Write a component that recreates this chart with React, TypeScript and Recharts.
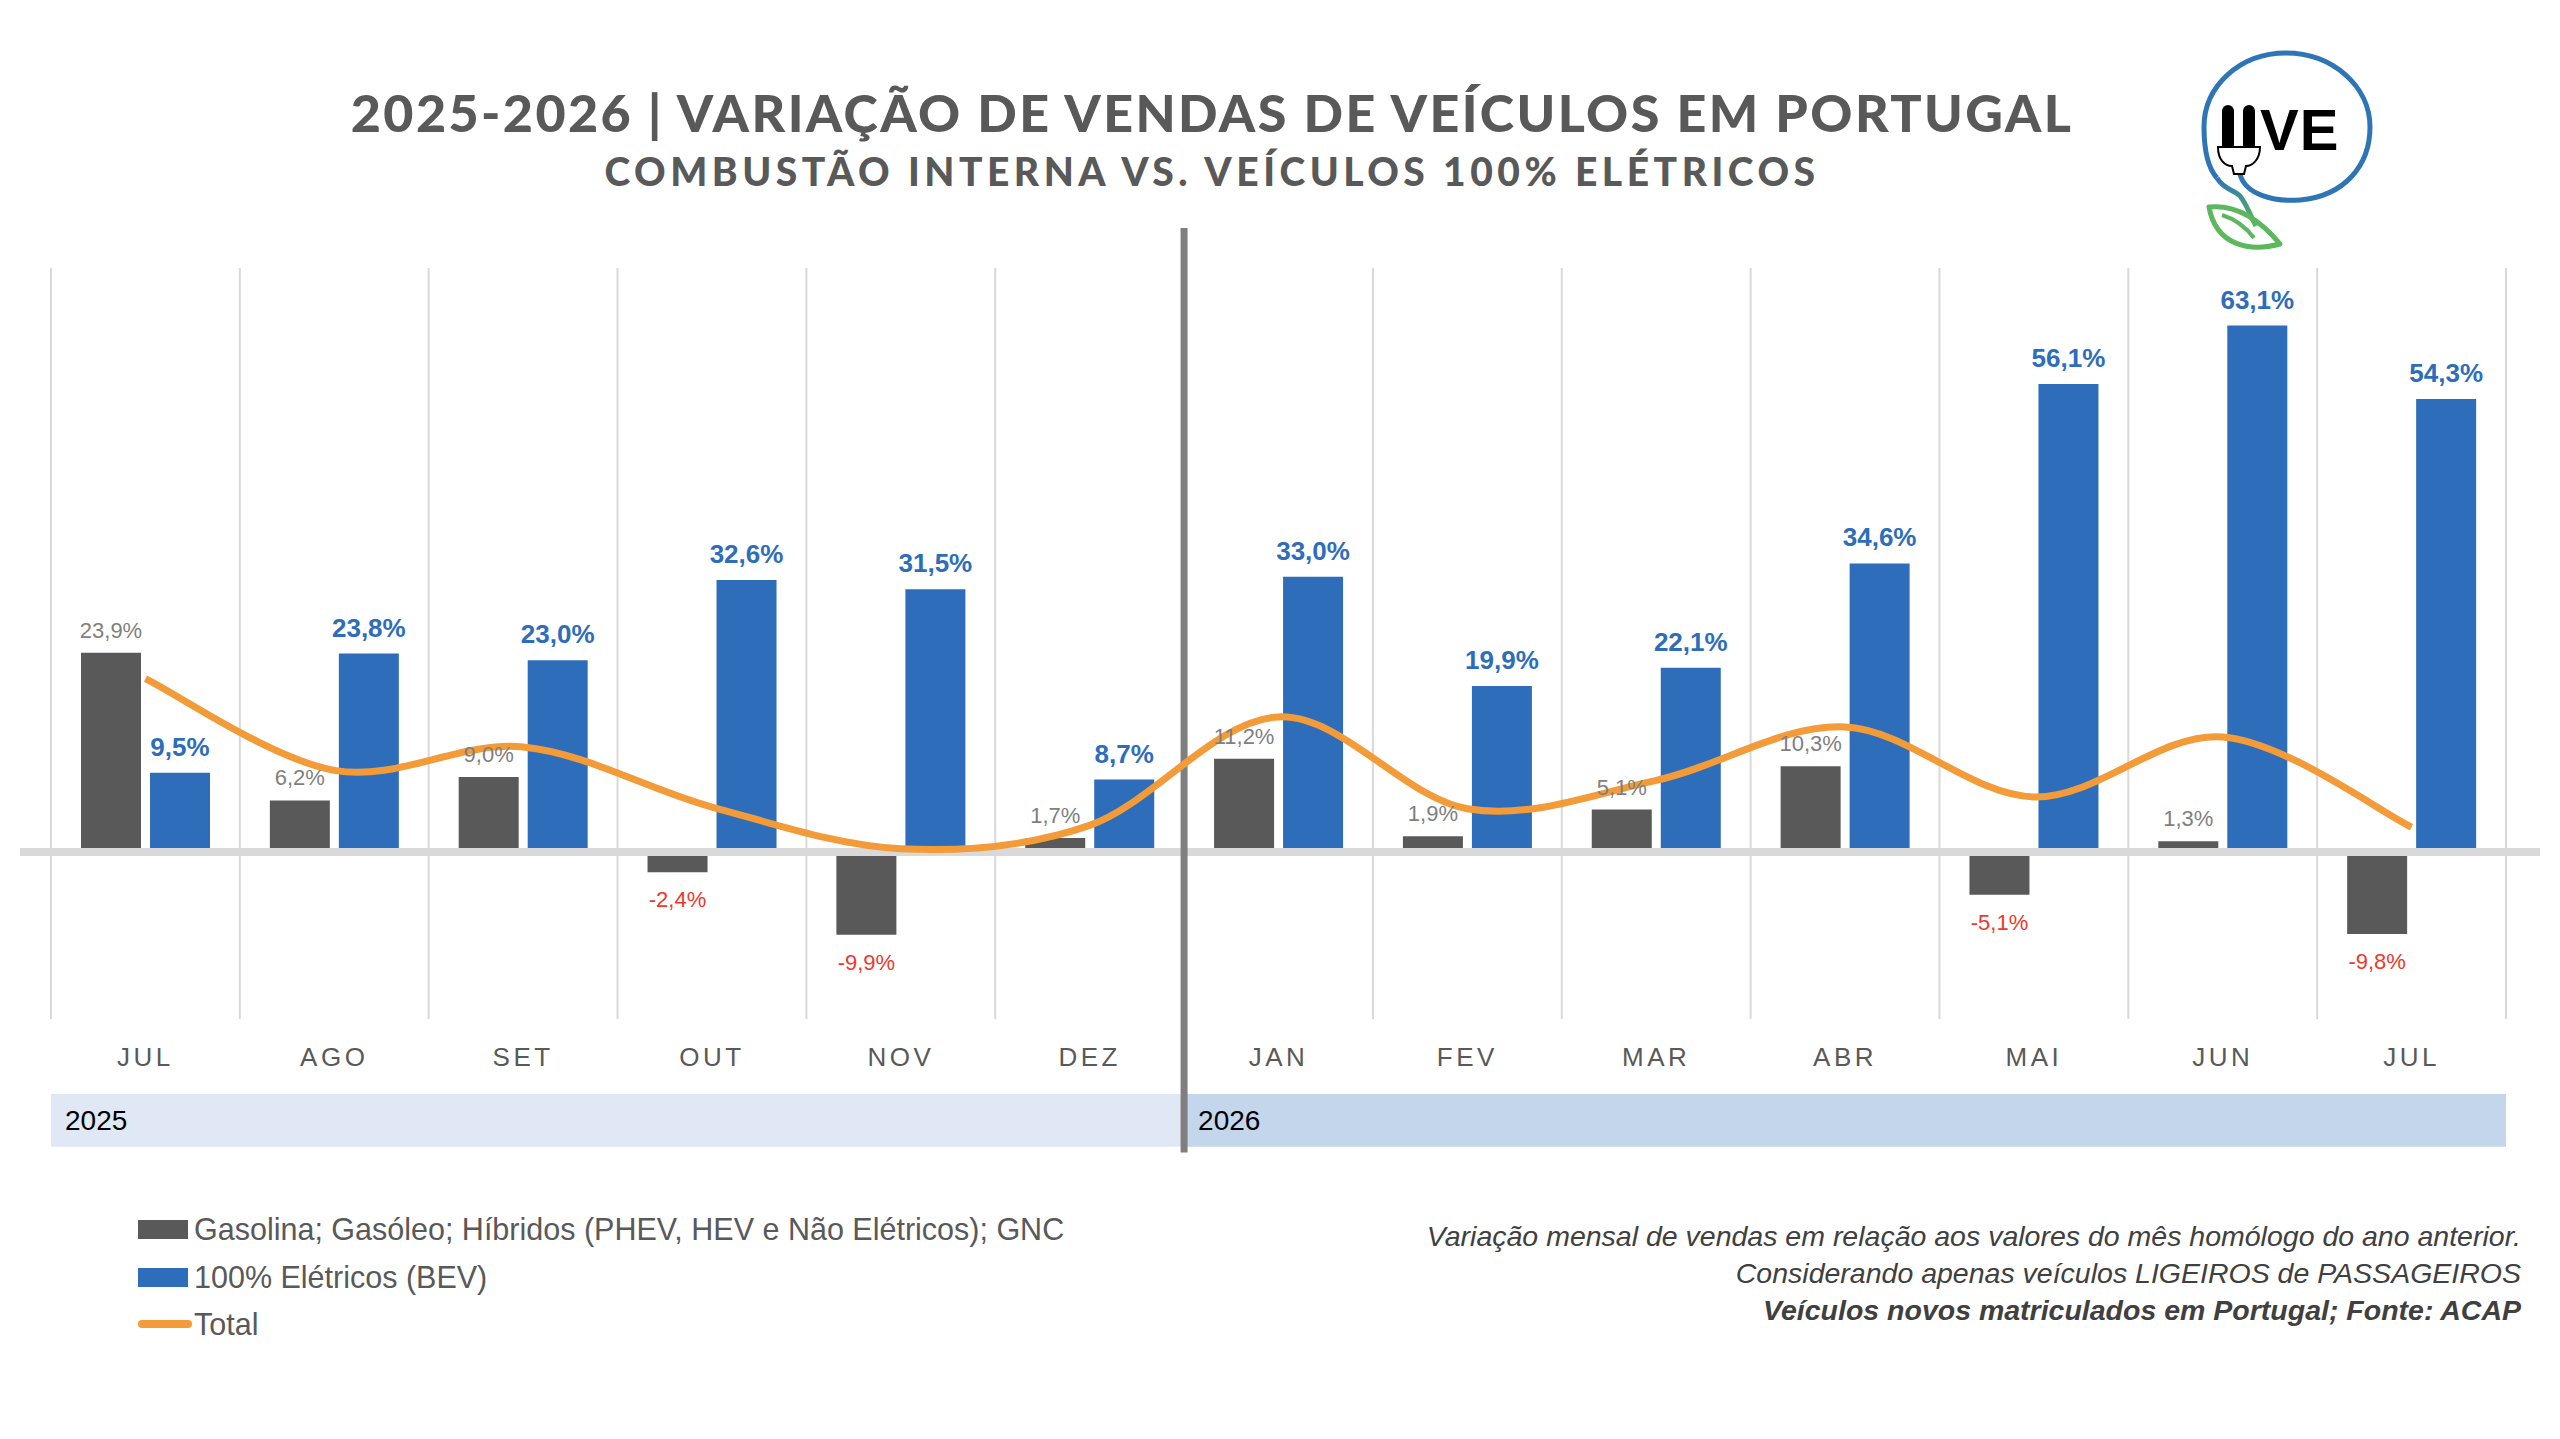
import React from 'react';
import {
  ComposedChart,
  Bar,
  Line,
  XAxis,
  YAxis,
  ReferenceLine,
  ReferenceArea,
  LabelList,
} from 'recharts';

// ---------- DATA ----------
const categoryKeys = [
  'JUL-25', 'AGO-25', 'SET-25', 'OUT-25', 'NOV-25', 'DEZ-25',
  'JAN-26', 'FEV-26', 'MAR-26', 'ABR-26', 'MAI-26', 'JUN-26', 'JUL-26',
];
const monthLabels = ['JUL', 'AGO', 'SET', 'OUT', 'NOV', 'DEZ', 'JAN', 'FEV', 'MAR', 'ABR', 'MAI', 'JUN', 'JUL'];
const iceValues = [23.9, 6.2, 9.0, -2.4, -9.9, 1.7, 11.2, 1.9, 5.1, 10.3, -5.1, 1.3, -9.8];
const bevValues = [9.5, 23.8, 23.0, 32.6, 31.5, 8.7, 33.0, 19.9, 22.1, 34.6, 56.1, 63.1, 54.3];
const totalValues = [20.8, 9.8, 12.6, 5.4, 0.4, 3.2, 16.2, 5.2, 8.6, 15.0, 6.6, 13.8, 3.0];
const yearLabels = ['2025', '2026'];

const data = categoryKeys.map((k, i) => ({
  key: k,
  month: monthLabels[i],
  ice: iceValues[i],
  bev: bevValues[i],
  total: totalValues[i],
}));

// ---------- STYLE ----------
const GREY = '#595959';
const BLUE = '#2e6dba';
const ORANGE = '#f29b38';
const RED = '#f0372d';
const FONT = '"Liberation Sans", Arial, sans-serif';

const fmt = (v: number) => v.toFixed(1).replace('.', ',') + '%';

// Excel-like smoothed line (cardinal / Catmull-Rom style bezier)
function excelCurve(context: any) {
  let pts: number[][] = [];
  return {
    areaStart() {},
    areaEnd() {},
    lineStart() {
      pts = [];
    },
    lineEnd() {
      const n = pts.length;
      if (!n) return;
      context.moveTo(pts[0][0], pts[0][1]);
      if (n === 1) return;
      const t = 1 / 6;
      for (let i = 0; i < n - 1; i++) {
        const p0 = pts[Math.max(i - 1, 0)];
        const p1 = pts[i];
        const p2 = pts[i + 1];
        const p3 = pts[Math.min(i + 2, n - 1)];
        context.bezierCurveTo(
          p1[0] + (p2[0] - p0[0]) * t,
          p1[1] + (p2[1] - p0[1]) * t,
          p2[0] - (p3[0] - p1[0]) * t,
          p2[1] - (p3[1] - p1[1]) * t,
          p2[0],
          p2[1]
        );
      }
    },
    point(x: number, y: number) {
      pts.push([+x, +y]);
    },
  };
}

const IceLabel = (props: any) => {
  const { x, y, width, height, value } = props;
  if (value === undefined || value === null) return null;
  const cx = Number(x) + Number(width) / 2;
  const top = Math.min(Number(y), Number(y) + Number(height));
  const bottom = Math.max(Number(y), Number(y) + Number(height));
  if (value >= 0) {
    return (
      <text x={cx} y={top - 15} textAnchor="middle" fill="#7f7f7f" fontSize={22} fontFamily={FONT}>
        {fmt(value)}
      </text>
    );
  }
  return (
    <text x={cx} y={bottom + 35} textAnchor="middle" fill={RED} fontSize={22} fontFamily={FONT}>
      {fmt(value)}
    </text>
  );
};

const BevLabel = (props: any) => {
  const { x, y, width, height, value } = props;
  const cx = Number(x) + Number(width) / 2;
  const top = Math.min(Number(y), Number(y) + Number(height));
  return (
    <text x={cx} y={top - 17} textAnchor="middle" fill={BLUE} fontSize={26} fontWeight={700} fontFamily={FONT}>
      {fmt(value)}
    </text>
  );
};

const Logo = () => (
  <svg
    width={260}
    height={260}
    viewBox="2160 20 260 260"
    style={{ position: 'absolute', left: 2160, top: 20 }}
  >
    <defs>
      <linearGradient id="tailGrad" x1="0" y1="0" x2="0" y2="1">
        <stop offset="0%" stopColor="#2e75b6" />
        <stop offset="100%" stopColor="#5cb85c" />
      </linearGradient>
    </defs>
    <path
      d="M 2240 174 C 2245 195, 2275 202, 2300 200 C 2345 196, 2370 165, 2370 127 C 2370 86, 2332 53, 2286 53 C 2240 53, 2204 86, 2204 127 C 2204 150, 2208 168, 2217 178"
      fill="none"
      stroke="#2e75b6"
      strokeWidth={5}
    />
    <path
      d="M 2217 178 C 2224 190, 2235 190, 2240 196 C 2246 203, 2250 215, 2256 226"
      fill="none"
      stroke="url(#tailGrad)"
      strokeWidth={5}
    />
    <path
      d="M 2209 207 C 2238 204, 2262 222, 2280 244 C 2250 252, 2216 246, 2209 207 Z"
      fill="none"
      stroke="#5cb85c"
      strokeWidth={5}
      strokeLinejoin="round"
    />
    <path d="M 2222 215 C 2238 220, 2248 230, 2254 238" fill="none" stroke="#5cb85c" strokeWidth={4} />
    <rect x={2222} y={105} width={12} height={46} rx={6} fill="#000" />
    <rect x={2243} y={105} width={12} height={46} rx={6} fill="#000" />
    <path
      d="M 2218 147 L 2260 147 C 2260 160, 2252 166, 2246 166 L 2244 174 L 2234 174 L 2232 166 C 2225 166, 2218 160, 2218 147 Z"
      fill="#fff"
      stroke="#000"
      strokeWidth={2}
    />
    <text x={2260} y={150} fontSize={58} fontWeight={700} fontFamily={FONT} fill="#000" letterSpacing={1}>
      VE
    </text>
  </svg>
);

export default function App() {
  return (
    <div style={{ position: 'absolute', left: 0, top: 0, width: 2560, height: 1439, background: '#fff', fontFamily: FONT }}>
      <ComposedChart
        width={2560}
        height={1439}
        data={data}
        margin={{ top: 268, right: 20, bottom: 360, left: 20 }}
        barCategoryGap={30}
        barGap={9}
      >
        <XAxis
          dataKey="key"
          padding={{ left: 31, right: 34 }}
          axisLine={false}
          tickLine={false}
          height={60}
          tickMargin={23}
          interval={0}
          tickFormatter={(v: string) => String(v).split('-')[0]}
          tick={{ fill: GREY, fontSize: 26, fontFamily: FONT, letterSpacing: 3.5 }}
        />
        <YAxis hide domain={[-20, 70]} type="number" allowDataOverflow />
        {categoryKeys.map((k) => (
          <ReferenceLine key={'g' + k} x={k} position="start" stroke="#d9d9d9" strokeWidth={2} />
        ))}
        <ReferenceLine x={categoryKeys[categoryKeys.length - 1]} position="end" stroke="#d9d9d9" strokeWidth={2} />
        <ReferenceArea
          x1={categoryKeys[0]}
          x2={categoryKeys[5]}
          y1={-29}
          y2={-35.3}
          fill="#dfe8f4"
          fillOpacity={1}
          stroke="none"
          ifOverflow="visible"
          label={{ value: yearLabels[0], position: 'insideLeft', offset: 14, fill: '#000', fontSize: 28, fontFamily: FONT }}
        />
        <ReferenceArea
          x1={categoryKeys[6]}
          x2={categoryKeys[12]}
          y1={-29}
          y2={-35.3}
          fill="#c3d6eb"
          fillOpacity={1}
          stroke="none"
          ifOverflow="visible"
          label={{ value: yearLabels[1], position: 'insideLeft', offset: 14, fill: '#000', fontSize: 28, fontFamily: FONT }}
        />
        <Bar dataKey="ice" fill={GREY} isAnimationActive={false}>
          <LabelList dataKey="ice" content={IceLabel} />
        </Bar>
        <Bar dataKey="bev" fill={BLUE} isAnimationActive={false}>
          <LabelList dataKey="bev" content={BevLabel} />
        </Bar>
        <ReferenceLine y={0} stroke="#d9d9d9" strokeWidth={8} />
        <ReferenceLine
          segment={[
            { x: categoryKeys[6], y: 74.8 },
            { x: categoryKeys[6], y: -36 },
          ]}
          position="start"
          ifOverflow="visible"
          stroke="#7f7f7f"
          strokeWidth={7}
        />
        <Line
          dataKey="total"
          type={excelCurve as any}
          stroke={ORANGE}
          strokeWidth={7}
          dot={false}
          activeDot={false}
          isAnimationActive={false}
        />
      </ComposedChart>

      {/* Title */}
      <div
        style={{
          position: 'absolute',
          left: 0,
          width: 2424,
          top: 83,
          textAlign: 'center',
          color: GREY,
          fontFamily: 'Lato, "Open Sans", sans-serif',
          fontWeight: 900,
          fontSize: 52,
          letterSpacing: 2.4,
          lineHeight: '58px',
          whiteSpace: 'nowrap',
        }}
      >
        2025-2026 | VARIAÇÃO DE VENDAS DE VEÍCULOS EM PORTUGAL
      </div>
      <div
        style={{
          position: 'absolute',
          left: 0,
          width: 2424,
          top: 148,
          textAlign: 'center',
          color: GREY,
          fontFamily: 'Lato, "Open Sans", sans-serif',
          fontWeight: 900,
          fontSize: 39,
          letterSpacing: 4.5,
          lineHeight: '46px',
          whiteSpace: 'nowrap',
        }}
      >
        COMBUSTÃO INTERNA VS. VEÍCULOS 100% ELÉTRICOS
      </div>

      <Logo />

      {/* Legend */}
      {[
        { label: 'Gasolina; Gasóleo; Híbridos (PHEV, HEV e Não Elétricos); GNC', color: GREY, type: 'rect', y: 1229 },
        { label: '100% Elétricos (BEV)', color: BLUE, type: 'rect', y: 1277 },
        { label: 'Total', color: ORANGE, type: 'line', y: 1324 },
      ].map((it) => (
        <div
          key={it.label}
          style={{
            position: 'absolute',
            left: 138,
            top: it.y - 18,
            height: 36,
            display: 'flex',
            alignItems: 'center',
            whiteSpace: 'nowrap',
          }}
        >
          {it.type === 'rect' ? (
            <div style={{ width: 50, height: 19, background: it.color }} />
          ) : (
            <div style={{ width: 54, height: 8, background: it.color, borderRadius: 4 }} />
          )}
          <span style={{ marginLeft: it.type === 'rect' ? 6 : 2, fontSize: 30.5, color: GREY, fontFamily: FONT }}>{it.label}</span>
        </div>
      ))}

      {/* Notes */}
      {[
        { t: 'Variação mensal de vendas em relação aos valores do mês homólogo do ano anterior.', y: 1236, b: false },
        { t: 'Considerando apenas veículos LIGEIROS de PASSAGEIROS', y: 1273, b: false },
        { t: 'Veículos novos matriculados em Portugal; Fonte: ACAP', y: 1310, b: true },
      ].map((n) => (
        <div
          key={n.t}
          style={{
            position: 'absolute',
            right: 2560 - 2521,
            top: n.y - 17,
            height: 34,
            lineHeight: '34px',
            fontSize: 28.5,
            fontStyle: 'italic',
            fontWeight: n.b ? 700 : 400,
            color: '#404040',
            fontFamily: FONT,
            whiteSpace: 'nowrap',
            textAlign: 'right',
          }}
        >
          {n.t}
        </div>
      ))}
    </div>
  );
}
